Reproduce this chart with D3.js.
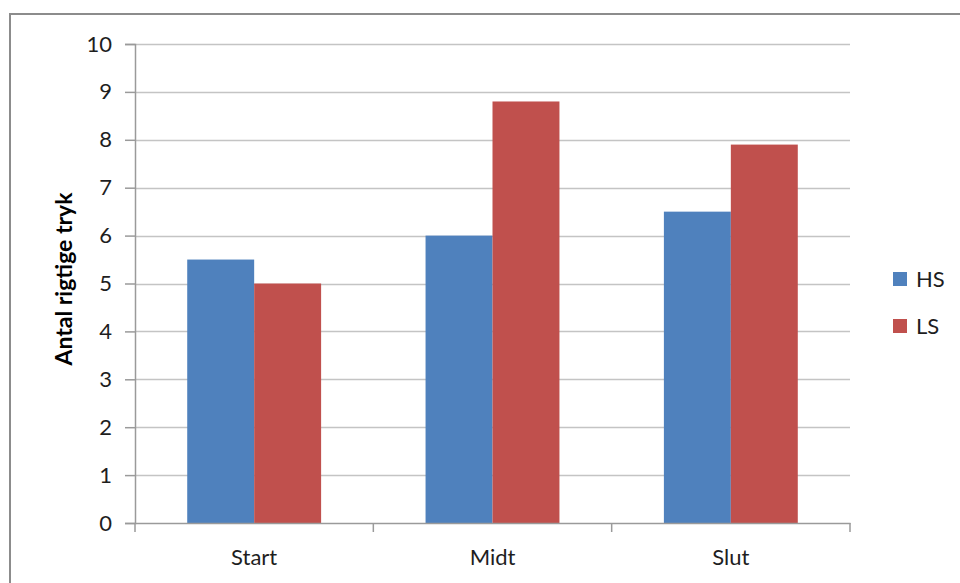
<!DOCTYPE html>
<html>
<head>
<meta charset="utf-8">
<script src="https://cdn.jsdelivr.net/npm/d3@7"></script>
<style>
  html, body { margin: 0; padding: 0; background: #fff; }
  svg { display: block; font-family: Lato, "Open Sans", sans-serif; }
</style>
</head>
<body>
<svg id="chart" width="960" height="583"></svg>
<script>
// Correct presses per phase, for the two groups
const categories = ["Start", "Midt", "Slut"];
const seriesNames = ["HS", "LS"];
const hsValues = [5.5, 6.0, 6.5];
const lsValues = [5.0, 8.8, 7.9];
const yTicks = [0, 1, 2, 3, 4, 5, 6, 7, 8, 9, 10];
const yTitle = "Antal rigtige tryk";
const colors = ["#4F81BD", "#C0504D"];

const FONT = "Lato, 'Open Sans', sans-serif";
const LABEL_SIZE = 22;
const TEXT_COLOR = "#1e1e1e";

const svg = d3.select("#chart");

// outer frame
svg.append("rect")
  .attr("x", 10).attr("y", 14)
  .attr("width", 960).attr("height", 600)
  .attr("fill", "none").attr("stroke", "#8c8c8c").attr("stroke-width", 2);

const plot = { left: 135, right: 850, top: 44, bottom: 523 };

const x = d3.scaleBand().domain(categories)
  .range([plot.left, plot.right]).paddingInner(0).paddingOuter(0);
const xInner = d3.scaleBand().domain(seriesNames)
  .range([0, x.bandwidth()]).paddingInner(0).paddingOuter(0.78);
const y = d3.scaleLinear().domain([0, 10]).range([plot.bottom, plot.top]);

// horizontal gridlines
svg.append("g").selectAll("line").data(yTicks.filter(d => d > 0)).join("line")
  .attr("x1", plot.left).attr("x2", plot.right)
  .attr("y1", d => Math.round(y(d)) + 0.5).attr("y2", d => Math.round(y(d)) + 0.5)
  .attr("stroke", "#c4c4c4").attr("stroke-width", 1.5);

// y axis
const yAxis = d3.axisLeft(y).tickValues(yTicks).tickSize(10).tickPadding(13).tickFormat(d3.format("d"));
const gy = svg.append("g").attr("transform", `translate(${plot.left},0)`).call(yAxis);
gy.attr("font-size", LABEL_SIZE).attr("font-family", FONT);
gy.select(".domain").attr("stroke", "#9a9a9a").attr("stroke-width", 1.5);
gy.selectAll(".tick line").attr("stroke", "#9a9a9a").attr("stroke-width", 1.5);
gy.selectAll(".tick text").attr("fill", TEXT_COLOR);

// bars
const rows = categories.map((c, i) => ({ cat: c, vals: [hsValues[i], lsValues[i]] }));
const groups = svg.append("g").selectAll("g").data(rows).join("g")
  .attr("transform", d => `translate(${x(d.cat)},0)`);
groups.selectAll("rect").data(d => d.vals.map((v, j) => ({ key: seriesNames[j], v, j })))
  .join("rect")
  .attr("x", d => xInner(d.key))
  .attr("width", xInner.bandwidth())
  .attr("y", d => y(d.v))
  .attr("height", d => y(0) - y(d.v))
  .attr("fill", d => colors[d.j]);

// x axis
const xAxis = d3.axisBottom(x).tickSize(0).tickPadding(26);
const gx = svg.append("g").attr("transform", `translate(0,${plot.bottom})`).call(xAxis);
gx.attr("font-size", LABEL_SIZE).attr("font-family", FONT);
gx.select(".domain").attr("stroke", "#9a9a9a").attr("stroke-width", 1.5);
gx.selectAll(".tick text").attr("fill", TEXT_COLOR);
// category separator ticks
gx.append("g").selectAll("line")
  .data([plot.left, ...categories.map(c => x(c) + x.bandwidth())])
  .join("line")
  .attr("x1", d => d).attr("x2", d => d).attr("y1", 0).attr("y2", 9)
  .attr("stroke", "#9a9a9a").attr("stroke-width", 1.5);

// y axis title
svg.append("text")
  .attr("transform", `translate(72,279) rotate(-90)`)
  .attr("text-anchor", "middle")
  .attr("font-family", FONT)
  .attr("font-size", 23).attr("font-weight", "bold").attr("fill", "#000")
  .text(yTitle);

// legend
const legend = svg.append("g").attr("transform", "translate(893,272)");
seriesNames.forEach((name, i) => {
  const g = legend.append("g").attr("transform", `translate(0,${i * 47})`);
  g.append("rect").attr("width", 14).attr("height", 14).attr("fill", colors[i]);
  g.append("text").attr("x", 23).attr("y", 7).attr("dy", "0.35em")
    .attr("font-family", FONT)
    .attr("font-size", LABEL_SIZE).attr("fill", TEXT_COLOR).text(name);
});
</script>
</body>
</html>
